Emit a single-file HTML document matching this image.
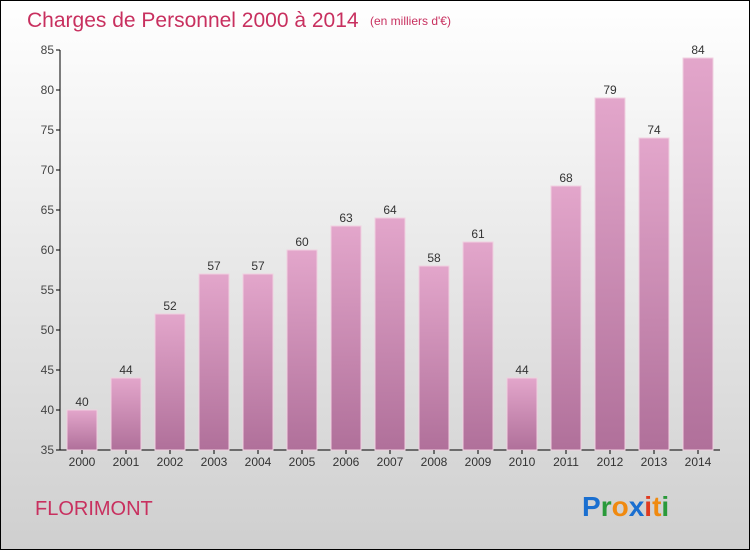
<!DOCTYPE html>
<html><head><meta charset="utf-8"><style>
body{margin:0}
svg{display:block;font-family:"Liberation Sans",sans-serif}
</style></head><body>
<svg width="750" height="550" xmlns="http://www.w3.org/2000/svg" id="c">
<defs>
<linearGradient id="bg" x1="0" y1="0" x2="0" y2="1"><stop offset="0" stop-color="#ffffff"/><stop offset="1" stop-color="#cfcfcf"/></linearGradient>
<linearGradient id="bar" x1="0" y1="0" x2="0" y2="1"><stop offset="0" stop-color="#e3a6cb"/><stop offset="1" stop-color="#b0709a"/></linearGradient>
</defs>
<rect x="0.5" y="0.5" width="749" height="549" fill="url(#bg)" stroke="#000"/>
<text x="27" y="27" font-size="21" fill="#c8305f">Charges de Personnel 2000 à 2014</text>
<text x="370" y="25" font-size="12" fill="#c8305f">(en milliers d'€)</text>
<text x="35" y="515" font-size="20" fill="#c8305f">FLORIMONT</text>
<g font-size="28" font-weight="bold" font-family="'Liberation Sans',sans-serif">
<text x="582" y="516"><tspan fill="#1a6fd0">P</tspan><tspan fill="#2a9a3a">r</tspan><tspan fill="#f08a10">o</tspan><tspan fill="#1a6fd0">x</tspan><tspan fill="#e03a20">i</tspan><tspan fill="#f08a10">t</tspan><tspan fill="#2a9a3a">i</tspan></text>
</g>
<g id="plot"></g>
</svg>
<script>
const years=["2000","2001","2002","2003","2004","2005","2006","2007","2008","2009","2010","2011","2012","2013","2014"];
const values=[40,44,52,57,57,60,63,64,58,61,44,68,79,74,84];
const yTicks=[35,40,45,50,55,60,65,70,75,80,85];
const NS="http://www.w3.org/2000/svg";
const g=document.getElementById('plot');
const y0=450,y1=50,vmin=35,vmax=85;
const ys=v=>y0-(v-vmin)/(vmax-vmin)*(y0-y1);
const xs=i=>82+i*44;
function mk(t,a,p){const e=document.createElementNS(NS,t);for(const k in a)e.setAttribute(k,a[k]);(p||g).appendChild(e);return e;}
let ax=mk('line',{x1:60,y1:y1,x2:60,y2:y0,stroke:'#000'});


let xa=mk('line',{x1:60,y1:y0,x2:720,y2:y0,stroke:'#000'});


yTicks.forEach(v=>{
 let t=mk('line',{x1:56,y1:ys(v),x2:60,y2:ys(v),stroke:'#000'});
 
 
 let l=mk('text',{x:54,y:ys(v)+4,'text-anchor':'end','font-size':12,fill:'#444'});
 l.textContent=v;
 
 
});
years.forEach((yr,i)=>{
 const v=values[i],x=xs(i);
 let r=mk('rect',{x:x-15,y:ys(v),width:30,height:y0-ys(v),fill:'url(#bar)',stroke:'#f0d0e0','stroke-width':1});
 
 
 let vl=mk('text',{x:x,y:ys(v)-4,'text-anchor':'middle','font-size':12,fill:'#333'});
 vl.textContent=v;
 
 
 let tk=mk('line',{x1:x,y1:y0,x2:x,y2:y0+4,stroke:'#000'});
 
 
 let xl=mk('text',{x:x,y:y0+16,'text-anchor':'middle','font-size':12,fill:'#333'});
 xl.textContent=yr;
 
 
});
</script>
</body></html>
